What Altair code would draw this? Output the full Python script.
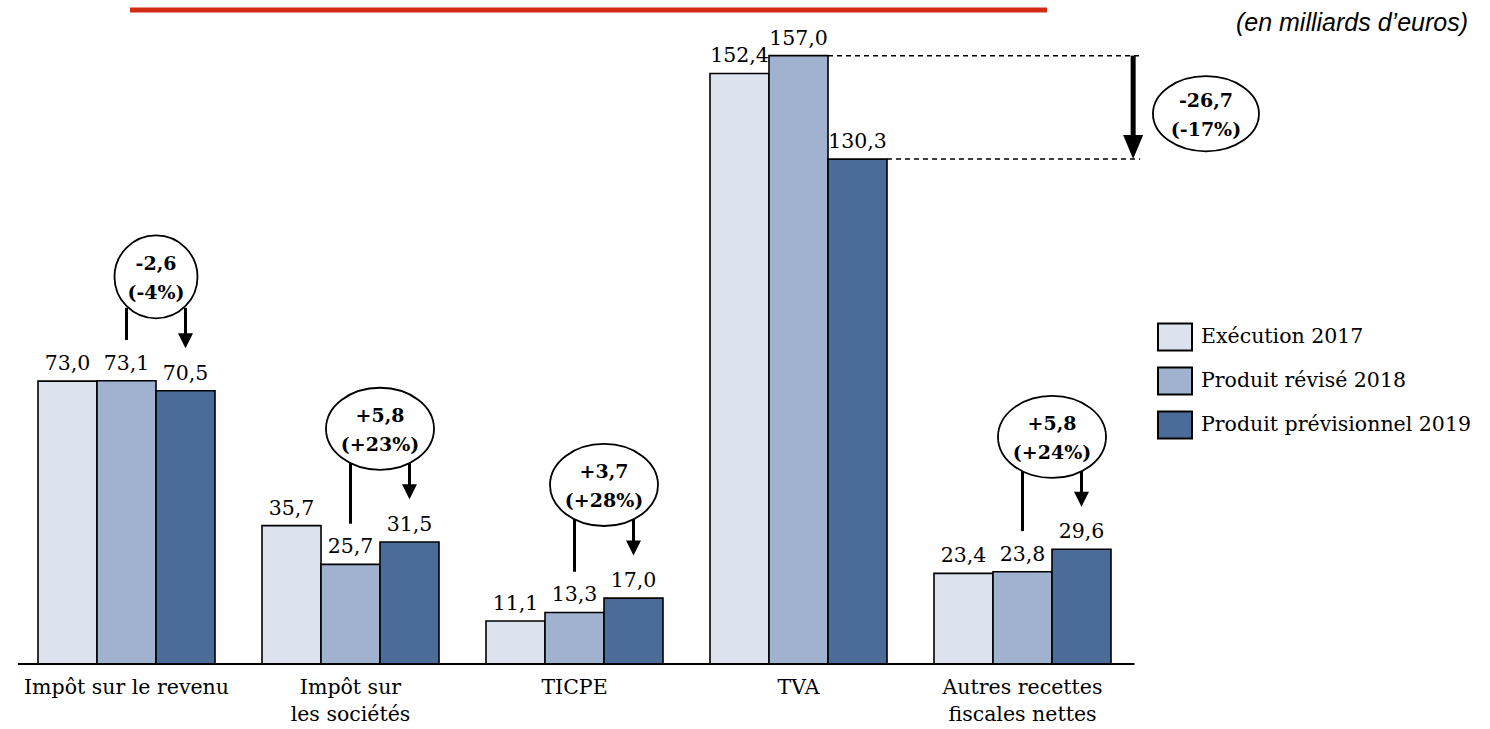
import altair as alt
import pandas as pd

# ---------------- data ----------------
categories = ["Impôt sur le revenu", "Impôt sur\nles sociétés", "TICPE", "TVA",
              "Autres recettes\nfiscales nettes"]
series = ["Exécution 2017", "Produit révisé 2018", "Produit prévisionnel 2019"]
v2017 = [73.0, 35.7, 11.1, 152.4, 23.4]
v2018 = [73.1, 25.7, 13.3, 157.0, 23.8]
v2019 = [70.5, 31.5, 17.0, 130.3, 29.6]
colors = ["#DDE3EE", "#A0B2CF", "#4B6B99"]

# change annotations (2018 -> 2019)
ann_groups = [0, 1, 2, 4]
ann_text = ["-2,6\n(-4%)", "+5,8\n(+23%)", "+3,7\n(+28%)", "+5,8\n(+24%)"]
ann_center = [99.9, 60.7, 46.2, 58.6]
tva_text = "-26,7\n(-17%)"
tva_center = 142.0

title_text = "(en milliards d\u2019euros)"

# ---------------- layout helpers ----------------
BW = 59 / 224                      # bar width in group units
PX_PER_UNIT = 3.875
xs = alt.Scale(domain=[-126.5 / 224, (1490 - 126.5) / 224], nice=False, zero=False)
ys = alt.Scale(domain=[-65 / PX_PER_UNIT, 664 / PX_PER_UNIT], nice=False, zero=False)
SERIF = "DejaVu Serif"


def X(f):
    return alt.X(f, type="quantitative", scale=xs, axis=None)


def Y(f):
    return alt.Y(f, type="quantitative", scale=ys, axis=None)


def fmt(v):
    return f"{v:.1f}".replace(".", ",")


rows = []
for i in range(len(categories)):
    for j, (s, vals) in enumerate(zip(series, [v2017, v2018, v2019])):
        x0 = i + (j - 1.5) * BW
        rows.append(dict(i=i, series=s, value=vals[i], x0=x0, x1=x0 + BW,
                         xc=x0 + BW / 2, label=fmt(vals[i])))
bars_df = pd.DataFrame(rows)

cat_df = pd.DataFrame(dict(i=list(range(len(categories))), name=categories))

circle_path = "M -1 0 A 1 1 0 1 1 1 0 A 1 1 0 1 1 -1 0 Z"
ell_path = "M -1 0 A 1 0.76 0 1 1 1 0 A 1 0.76 0 1 1 -1 0 Z"
tva_path = "M -1 0 A 1 0.71 0 1 1 1 0 A 1 0.71 0 1 1 -1 0 Z"

ell_rows = []
line_rows = []
arrow_rows = []
for g, t, cy in zip(ann_groups, ann_text, ann_center):
    b2, b3 = v2018[g], v2019[g]
    ell_rows.append(dict(x=g + 0.5 * BW, y=cy, text=t,
                         path=circle_path if g == 0 else ell_path,
                         size=83 ** 2 if g == 0 else 108 ** 2))
    line_rows.append(dict(x=g, y=cy - 8, y2=b2 + 10.5))
    arrow_rows.append(dict(x=g + BW, y=cy - 8, y2=b3 + 13, tip=b3 + 11))
ell_rows.append(dict(x=3 + 1.819, y=tva_center, text=tva_text, path=tva_path,
                     size=106 ** 2))
ell_df = pd.DataFrame(ell_rows)
line_df = pd.DataFrame(line_rows)
arrow_df = pd.DataFrame(arrow_rows)

dash_df = pd.DataFrame(dict(x=[3 + 0.5 * BW, 3 + 1.5 * BW], x2=[3 + 1.525, 3 + 1.525],
                            y=[v2018[3], v2019[3]]))
tva_arrow_df = pd.DataFrame(dict(x=[3 + 1.494], y=[v2018[3]], y2=[v2019[3] + 4],
                                 tip=[v2019[3]]))
axis_df = pd.DataFrame(dict(x=[-0.485], x2=[len(categories) - 1 + 0.5], y=[0]))

# ---------------- layers ----------------
bars = alt.Chart(bars_df).mark_bar(stroke="black", strokeWidth=1.6).encode(
    x=X("x0"), x2="x1", y=Y("value"), y2=alt.datum(0),
    fill=alt.Fill("series:N", scale=alt.Scale(domain=series, range=colors),
                  legend=alt.Legend(orient="none", legendX=1157, legendY=319, title=None,
                                    symbolType="M -1 -0.79 L 1 -0.79 L 1 0.79 L -1 0.79 Z",
                                    symbolSize=34 * 34, symbolStrokeColor="black",
                                    symbolStrokeWidth=2, symbolOpacity=1,
                                    labelFont=SERIF, labelFontSize=20.5, labelColor="black",
                                    labelOffset=8, rowPadding=8, padding=0,
                                    labelLimit=400)),
)

bar_labels = alt.Chart(bars_df).mark_text(font=SERIF, fontSize=20.5, color="black",
                                          baseline="alphabetic", dy=-11).encode(
    x=X("xc"), y=Y("value"), text="label:N")

baseline = alt.Chart(axis_df).mark_rule(color="black", strokeWidth=2).encode(
    x=X("x"), x2="x2", y=Y("y"))

cat_labels = alt.Chart(cat_df).mark_text(font=SERIF, fontSize=20.5, color="black",
                                         baseline="top", lineBreak="\n",
                                         lineHeight=27).encode(
    x=X("i"), y=alt.value(678), text="name:N")

vlines = alt.Chart(line_df).mark_rule(color="black", strokeWidth=3).encode(
    x=X("x"), y=Y("y"), y2="y2")

arrows = alt.Chart(arrow_df).mark_rule(color="black", strokeWidth=3).encode(
    x=X("x"), y=Y("y"), y2="y2")

heads = alt.Chart(arrow_df).mark_point(shape="M -1 -1 L 1 -1 L 0 1 Z", size=15 * 15,
                                       filled=True, color="black", opacity=1,
                                       yOffset=-7.5).encode(
    x=X("x"), y=Y("tip"))

dashes = alt.Chart(dash_df).mark_rule(color="black", strokeWidth=1.5,
                                      strokeDash=[5, 4]).encode(
    x=X("x"), x2="x2", y=Y("y"))

tva_arrow = alt.Chart(tva_arrow_df).mark_rule(color="black", strokeWidth=5).encode(
    x=X("x"), y=Y("y"), y2="y2")

tva_head = alt.Chart(tva_arrow_df).mark_point(shape="M -1 -1.2 L 1 -1.2 L 0 1.2 Z",
                                              size=20 * 20, filled=True, color="black",
                                              opacity=1, yOffset=-12).encode(
    x=X("x"), y=Y("tip"))

ellipses = alt.Chart(ell_df).mark_point(fill="white", stroke="black", strokeWidth=1.8,
                                        fillOpacity=1, opacity=1, filled=False).encode(
    x=X("x"), y=Y("y"),
    shape=alt.Shape("path:N", scale=None),
    size=alt.Size("size:Q", scale=None))

ell_text = alt.Chart(ell_df).mark_text(font=SERIF, fontSize=19, fontWeight="bold",
                                       color="black", baseline="middle",
                                       lineBreak="\n", lineHeight=29, dy=-13).encode(
    x=X("x"), y=Y("y"), text="text:N")

red_line = alt.Chart(pd.DataFrame(dict(k=[0]))).mark_rule(
    color="#D12B12", strokeWidth=5).encode(
    x=alt.value(130), x2=alt.value(1047), y=alt.value(10))

title = alt.Chart(pd.DataFrame(dict(t=[title_text]))).mark_text(
    font="Liberation Sans", fontSize=25, fontStyle="italic", color="black",
    align="right", baseline="alphabetic").encode(
    x=alt.value(1468), y=alt.value(31), text="t:N")

chart = alt.layer(
    bars, bar_labels, baseline, cat_labels, dashes, vlines, arrows, heads,
    tva_arrow, tva_head, ellipses, ell_text, red_line, title
).properties(
    width=1490, height=729, padding=0,
    autosize=alt.AutoSizeParams(type="none"), background="white"
).configure_view(stroke=None)

chart.save("out.html", embed_options={"renderer": "svg", "actions": False})
